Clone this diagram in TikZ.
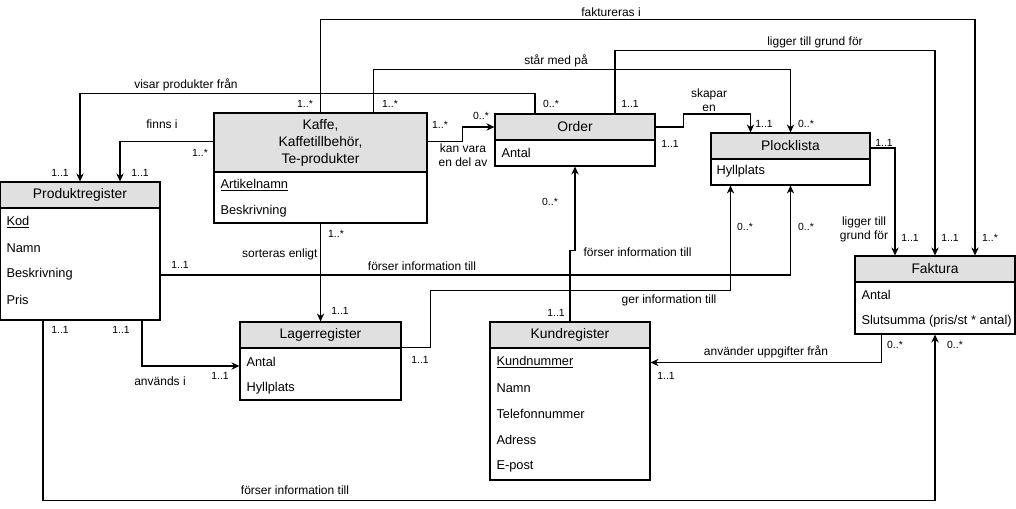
\documentclass[tikz,border=0pt]{standalone}
\usepackage{fontspec}
\setmainfont{Liberation Sans}
\usetikzlibrary{calc,arrows.meta}
\definecolor{headgray}{RGB}{224,224,224}

\begin{document}
\begin{tikzpicture}[x=0.75pt,y=-0.75pt,line width=0.8pt,
    boxsize/.style 2 args={minimum width=#1*0.75pt,minimum height=#2*0.75pt},
    head/.style={draw,fill=headgray,inner sep=0pt,align=center,font=\fontsize{10.4}{12.75}\selectfont},
    body/.style={draw,fill=white,inner sep=0pt},
    attr/.style={anchor=west,inner sep=0pt,font=\fontsize{9.6}{11}\selectfont},
    lbl/.style={inner sep=0pt,align=center,font=\fontsize{9}{10.5}\selectfont},
    mult/.style={inner sep=0pt,font=\fontsize{7.8}{9}\selectfont},
    arr/.style={-{Stealth[length=6pt,width=5.5pt]}}]
    \useasboundingbox (0,0) rectangle (1016,509);

    \node[head,boxsize={160}{26}] (prod-h) at (80,195) {Produktregister};
    \node[body,boxsize={160}{112}] (prod-b) at (80,264) {};
    \foreach \t [count=\i] in {\underline{Kod},Namn,Beskrivning,Pris}
      \node[attr] (prod-\i) at (6,196+26*\i) {\t};

    \node[head,boxsize={213}{59}] (kaffe-h) at (320.5,142.5) {Kaffe,\\Kaffetillbehör,\\Te-produkter};
    \node[body,boxsize={213}{51}] (kaffe-b) at (320.5,197.5) {};
    \foreach \t [count=\i] in {\underline{Artikelnamn},Beskrivning}
      \node[attr] (kaffe-\i) at (220,159+26*\i) {\t};

    \node[head,boxsize={160}{26}] (order-h) at (575,127) {Order};
    \node[body,boxsize={160}{26}] (order-b) at (575,153) {};
    \node[attr] (order-1) at (501,153) {Antal};

    \node[head,boxsize={159}{26}] (plock-h) at (790.5,146) {Plocklista};
    \node[body,boxsize={159}{26}] (plock-b) at (790.5,172) {};
    \node[attr] (plock-1) at (716,171) {Hyllplats};

    \node[head,boxsize={160}{26}] (faktura-h) at (935,269) {Faktura};
    \node[body,boxsize={160}{52}] (faktura-b) at (935,308) {};
    \foreach \t [count=\i] in {Antal,Slutsumma (pris/st * antal)}
      \node[attr] (faktura-\i) at (861,269+26*\i) {\t};

    \node[head,boxsize={161}{26}] (lager-h) at (320.5,335) {Lagerregister};
    \node[body,boxsize={161}{52}] (lager-b) at (320.5,374) {};
    \foreach \t [count=\i] in {Antal,Hyllplats}
      \node[attr] (lager-\i) at (246,336+26*\i) {\t};

    \node[head,boxsize={160}{26}] (kund-h) at (570,335) {Kundregister};
    \node[body,boxsize={160}{132}] (kund-b) at (570,414) {};
    \foreach \t [count=\i] in {\underline{Kundnummer},Namn,Telefonnummer,Adress,E-post}
      \node[attr] (kund-\i) at (496,336+26*\i) {\t};

    \draw[arr] (kaffe-h.north) -- ++(0,-93) -| ([xshift=30pt]faktura-h.north);
    \draw[arr] ([xshift=40pt]kaffe-h.north) -- ++(0,-43) -| (plock-h.north);
    \draw[arr] ([xshift=-30pt]order-h.north) -- ++(0,-20) -| (prod-h.north);
    \draw[arr] ([yshift=1pt]kaffe-h.west) -| ([xshift=30pt]prod-h.north);
    \draw[arr] ([yshift=1pt]kaffe-h.east) -- ++(35,0) |- (order-h.west);
    \draw[arr] (kaffe-b.south) -- (lager-h.north);
    \draw[arr] ([xshift=30pt]order-h.north) -- ++(0,-63) -| (faktura-h.north);
    \draw[arr] (order-h.east) -- ++(28,0) -- ++(0,-13) -| ([xshift=-30pt]plock-h.north);
    \draw[arr] ([yshift=-1.5pt]plock-h.east) -| ([xshift=-30pt]faktura-h.north);
    \draw[arr] ([yshift=-8.25pt]prod-b.east) -| (plock-b.south);
    \draw[arr] (lager-b.north east) -- ++(29,0) -- ++(0,-57) -| ([xshift=-45pt]plock-b.south);
    \draw[arr] (kund-h.north) -- ++(0,-71) -| (order-b.south);
    \draw[arr] ([xshift=-40pt]faktura-b.south) |- ([yshift=-11.25pt]kund-b.north east);
    \draw[arr] ([xshift=-27.75pt]prod-b.south) -- ++(0,180) -| (faktura-b.south);
    \draw[arr] ([xshift=46.5pt]prod-b.south) |- ([yshift=6pt]lager-b.west);

    \node[lbl] (l-fakt) at (611,12) {faktureras i};
    \node[lbl] (l-grund) at (815,42) {ligger till grund för};
    \node[lbl] (l-star) at (556,61) {står med på};
    \node[lbl] (l-visar) at (186,85) {visar produkter från};
    \node[lbl] (l-skapar) at (709,100) {skapar\\en};
    \node[lbl] (l-finns) at (162,124) {finns i};
    \node[lbl] (l-kan) at (463,155) {kan vara\\en del av};
    \node[lbl] (l-grund2) at (864,229) {ligger till\\grund för};
    \node[lbl,anchor=east] (l-sort) at (318,254) {sorteras enligt};
    \node[lbl] (l-forser1) at (422,266) {förser information till};
    \node[lbl,anchor=west] (l-forser2) at (583,252) {förser information till};
    \node[lbl] (l-ger) at (669,300) {ger information till};
    \node[lbl] (l-anv) at (766,352) {använder uppgifter från};
    \node[lbl] (l-anvs) at (160,381) {används i};
    \node[lbl] (l-forser3) at (295,490) {förser information till};

    \foreach \x/\y/\t [count=\i] in {305/104/{1..*},390/104/{1..*},551/104/{0..*},630/104/{1..1},
        60/173/{1..1},140/173/{1..1},200/153/{1..*},440/125/{1..*},481/116/{0..*},
        764/124/{1..1},806/124/{0..*},670/144/{1..1},884/143/{1..1},
        910/238/{1..1},950/238/{1..1},990/238/{1..*},550/202/{0..*},745/227/{0..*},806/227/{0..*},
        336/234/{1..*},180/265/{1..1},340/311/{1..1},556/313/{1..1},60/330/{1..1},121/330/{1..1},
        220/376/{1..1},420/360/{1..1},895/345/{0..*},955/345/{0..*},666/376/{1..1}}
      \node[mult] (m\i) at (\x,\y) {\t};
  \end{tikzpicture}
\end{document}
